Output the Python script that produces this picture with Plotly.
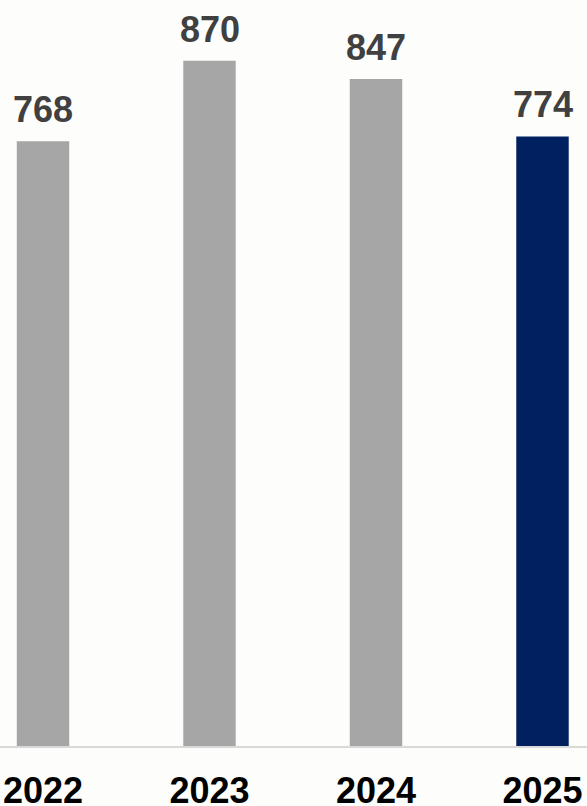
import plotly.graph_objects as go

years = ["2022", "2023", "2024", "2025"]
values = [768, 870, 847, 774]
colors = ["#a6a6a6", "#a6a6a6", "#a6a6a6", "#002060"]

BG = "#fdfdfb"

fig = go.Figure()
fig.add_trace(go.Bar(
    x=list(range(len(years))),
    y=values,
    width=0.315,
    marker=dict(color=colors, line=dict(width=0)),
    hoverinfo="skip",
))

for i, v in enumerate(values):
    fig.add_annotation(
        x=i, y=v, xref="x", yref="y",
        text=f"<b>{v}</b>", showarrow=False,
        yanchor="bottom", yshift=9,
        font=dict(family="Liberation Sans, Arial", size=36, color="#404040"),
    )

fig.update_layout(
    width=587, height=806,
    margin=dict(l=0, r=0, t=0, b=60),
    paper_bgcolor=BG, plot_bgcolor=BG,
    showlegend=False,
    xaxis=dict(
        range=[-0.2583, 3.2673],
        tickmode="array",
        tickvals=list(range(len(years))),
        ticktext=[f"<b>{y}</b>" for y in years],
        tickfont=dict(family="Liberation Sans, Arial", size=36, color="#000000"),
        ticklabelstandoff=12,
        showgrid=False, zeroline=False,
        showline=True, linecolor="#d9d9d9", linewidth=1.5,
        ticks="", automargin=False,
    ),
    yaxis=dict(
        range=[0, 947.2],
        visible=False, showgrid=False, zeroline=False,
    ),
)

fig.write_html("out.html")
